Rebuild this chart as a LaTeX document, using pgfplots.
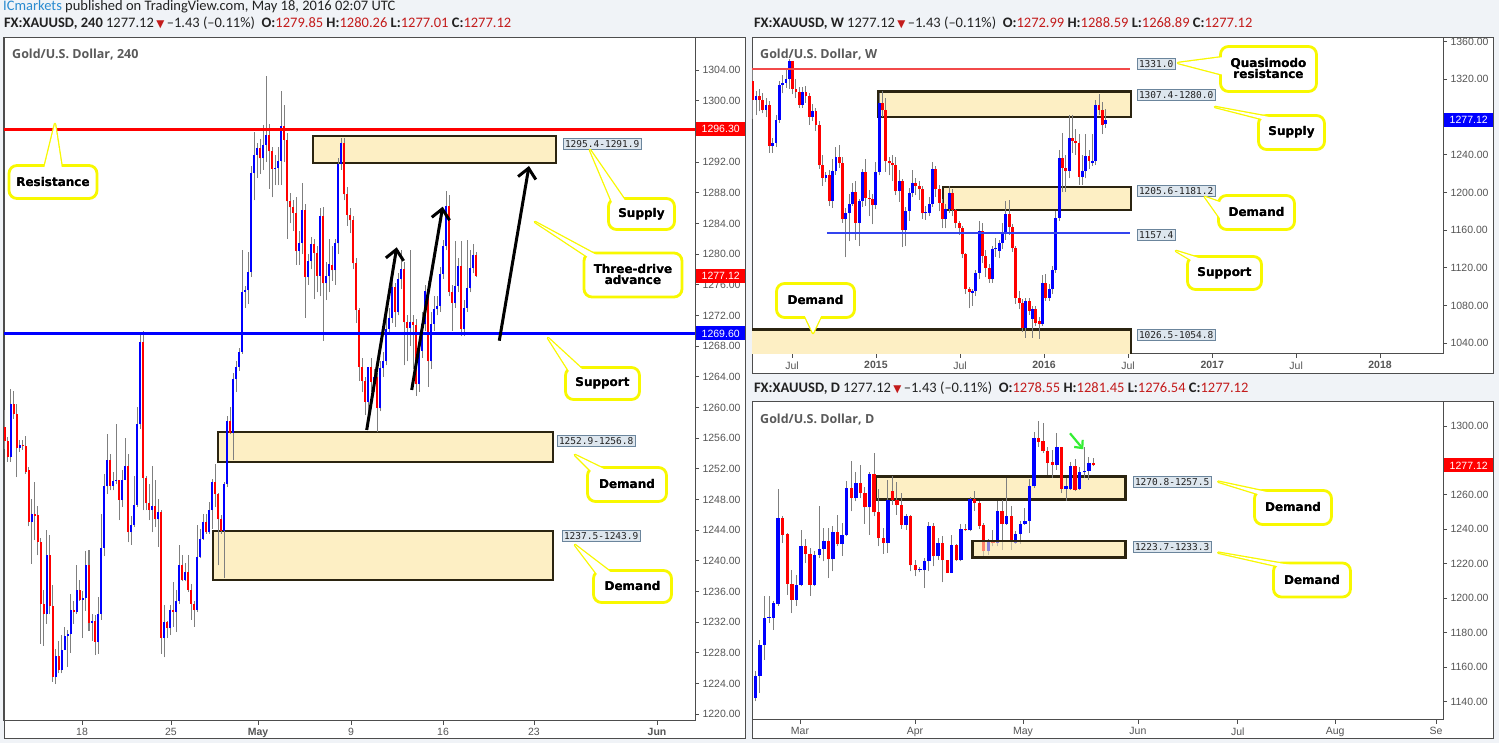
\documentclass[border=0pt]{standalone}
\usepackage{fontspec}
\setmainfont{Liberation Sans}
\newfontfamily\hdr{Carlito}
\newfontfamily\djv{DejaVu Sans}
\newfontfamily\mono{DejaVu Sans Mono}
\newfontfamily\osans{Open Sans}
\usepackage{pgfplots}
\usepackage{pgfplotstable}
\pgfplotsset{compat=1.18}
\usetikzlibrary{arrows.meta}

\definecolor{bg}{HTML}{F0F3F7}
\definecolor{frame}{HTML}{4D4D4D}
\definecolor{upc}{HTML}{0000FF}
\definecolor{dnc}{HTML}{FF0000}
\definecolor{wickc}{HTML}{7F7F7F}
\definecolor{boxfill}{HTML}{FDEFC4}
\definecolor{boxline}{HTML}{2B2410}
\definecolor{tagfill}{HTML}{DDE6EE}
\definecolor{tagline}{HTML}{6B859C}
\definecolor{callyel}{HTML}{F8F800}
\definecolor{hdrtxt}{HTML}{222222}
\definecolor{hdrred}{HTML}{C31B1B}
\definecolor{icblue}{HTML}{2A8BD0}
\definecolor{axtxt}{HTML}{555555}
\definecolor{ttl}{HTML}{5A5A5A}
\definecolor{wline}{HTML}{F24A4A}
\definecolor{wblue}{HTML}{3344EE}
\definecolor{arrowgreen}{HTML}{33EE33}

\pgfplotsset{
  candlebar/.style 2 args={draw=none, mark=none, forget plot, error bars/.cd, y dir=plus, y explicit, error mark=none, error bar style={draw=#1, line width=#2, solid, line cap=butt}, /pgfplots/.cd},
  tvaxis/.style={scale only axis, width=691pt, anchor=south west,
    axis line style={draw=frame, line width=1pt},
    tick style={draw=frame, line width=0.8pt}, tick align=outside, major tick length=4pt,
    ytick pos=right, yticklabel pos=right, xtick pos=bottom,
    tick label style={font=\fontsize{10.5}{12}\selectfont, text=axtxt},
    y tick label style={/pgf/number format/.cd, fixed, fixed zerofill, precision=2, 1000 sep={}, assume math mode=true},
    clip=true},
}
\tikzset{
  tvbox/.style={fill=boxfill, draw=boxline, line width=2.6pt},
  lvl/.style={fill=tagfill, draw=tagline, line width=0.8pt, inner sep=1.6pt, anchor=west, font=\mono\fontsize{9.5}{10}\selectfont, text=hdrtxt},
  ptag/.style={anchor=west, inner sep=0pt, minimum width=49pt, minimum height=14pt, text=white, font=\fontsize{10.5}{12}\selectfont},
  blackarrow/.style={line width=3pt, -{Straight Barb[length=10pt,width=18pt]}},
}
\newcommand{\callout}[7]{%
  \filldraw[fill=white, draw=callyel, line width=2.6pt, line join=round] #5 -- #4 -- #6 -- cycle;
  \node[draw=callyel, fill=white, line width=2.8pt, rounded corners=8pt, minimum width=#2, minimum height=#3, inner sep=0pt, align=center, font=\djv\bfseries\fontsize{12}{11}\selectfont] at #1 {#7};
  \fill[white] #5 -- #4 -- #6 -- cycle;
  \node[inner sep=0pt, align=center, font=\djv\bfseries\fontsize{12}{11}\selectfont] at #1 {#7};
}
\newcommand{\hdrline}[5]{{\color{hdrtxt}\textbf{FX:XAUUSD, #1}\ 1277.12\,{\djv\fontsize{10.5}{10}\selectfont\textcolor{hdrred}{▼}}\,–1.43 (–0.11\%)\ \ \textbf{O:}\textcolor{hdrred}{#2}\ \textbf{H:}\textcolor{hdrred}{#3}\ \textbf{L:}\textcolor{hdrred}{#4}\ \textbf{C:}\textcolor{hdrred}{#5}}}

% 4-hour candles: index, open, high, low, close
\pgfplotstableread{
i o h l c
1 1257.5 1259.7 1254.6 1255.6
2 1255.6 1256.2 1252.9 1253.5
3 1253.5 1262.4 1252.9 1260.4
4 1260.4 1262.1 1258.5 1259.2
5 1259.2 1260.5 1250.9 1254.7
6 1254.7 1255.8 1254.2 1255.1
7 1255.1 1255.7 1254.5 1255.0
8 1255.0 1256.3 1251.3 1251.6
9 1251.8 1252.2 1244.5 1245.0
10 1245.0 1248.1 1239.6 1246.1
11 1246.1 1250.3 1242.7 1245.9
12 1246.0 1247.2 1240.7 1242.4
13 1242.4 1243.0 1229.2 1234.3
14 1234.3 1236.2 1228.9 1233.0
15 1233.0 1244.0 1231.8 1240.8
16 1240.8 1243.4 1233.0 1234.1
17 1234.1 1236.8 1224.2 1224.9
18 1224.9 1228.5 1223.9 1227.6
19 1227.6 1229.6 1225.3 1225.8
20 1225.8 1230.3 1225.3 1228.4
21 1228.4 1231.4 1228.3 1230.2
22 1230.2 1231.0 1226.2 1230.5
23 1230.5 1235.7 1228.0 1233.6
24 1233.6 1234.8 1231.8 1233.3
25 1233.3 1239.4 1233.1 1236.2
26 1236.2 1237.5 1234.8 1234.9
27 1234.9 1236.0 1229.9 1235.1
28 1235.1 1241.3 1233.5 1239.4
29 1239.4 1241.4 1230.9 1231.9
30 1231.9 1233.0 1229.6 1232.2
31 1232.2 1232.9 1227.7 1229.4
32 1229.4 1235.3 1227.9 1233.1
33 1233.1 1246.1 1232.3 1241.7
34 1241.7 1251.3 1240.6 1249.7
35 1249.7 1256.5 1248.7 1253.1
36 1253.1 1253.9 1249.2 1249.8
37 1249.8 1251.6 1249.2 1250.4
38 1250.4 1257.8 1250.0 1250.6
39 1250.5 1250.6 1245.3 1247.9
40 1247.9 1251.9 1247.0 1250.6
41 1250.6 1256.0 1250.5 1252.4
42 1252.4 1253.9 1242.4 1243.7
43 1243.7 1245.9 1242.1 1244.7
44 1244.7 1251.1 1244.4 1247.3
45 1247.3 1260.1 1247.0 1257.8
46 1257.8 1269.8 1257.2 1268.6
47 1268.6 1270.0 1246.6 1250.8
48 1250.8 1251.1 1246.6 1247.5
49 1247.5 1250.0 1245.3 1246.6
50 1246.6 1252.3 1243.7 1247.1
51 1247.1 1250.5 1244.4 1245.4
52 1245.4 1248.1 1241.8 1246.3
53 1246.3 1246.6 1227.9 1229.9
54 1229.9 1234.2 1227.4 1232.0
55 1232.0 1232.2 1229.9 1231.2
56 1231.2 1234.2 1230.3 1233.6
57 1233.6 1237.2 1231.4 1233.3
58 1233.3 1236.2 1230.7 1234.8
59 1234.8 1242.0 1234.4 1239.4
60 1239.4 1240.7 1237.3 1237.5
61 1237.5 1239.7 1237.3 1238.5
62 1238.5 1240.7 1235.9 1236.2
63 1236.2 1237.0 1232.3 1234.4
64 1234.4 1234.8 1231.4 1233.6
65 1233.6 1244.7 1233.3 1240.5
66 1240.5 1244.2 1240.3 1242.9
67 1242.9 1246.1 1242.7 1245.1
68 1245.1 1246.1 1243.5 1243.7
69 1243.7 1247.7 1243.5 1246.6
70 1246.6 1250.7 1244.2 1250.3
71 1250.3 1252.6 1247.0 1248.7
72 1248.7 1248.9 1239.4 1245.4
73 1245.4 1246.0 1243.5 1243.9
74 1243.9 1250.3 1237.7 1250.0
75 1250.0 1258.9 1249.6 1258.2
76 1258.2 1260.0 1256.5 1256.7
77 1256.7 1264.5 1253.1 1263.7
78 1263.7 1266.0 1262.0 1265.3
79 1265.3 1267.8 1264.8 1267.3
80 1267.3 1280.5 1267.0 1275.1
81 1275.1 1275.8 1273.0 1275.3
82 1275.3 1280.3 1273.5 1277.7
83 1277.7 1291.5 1277.0 1290.6
84 1290.6 1296.0 1287.0 1293.0
85 1293.0 1294.5 1290.0 1293.8
86 1293.8 1295.0 1290.5 1292.5
87 1292.5 1296.8 1291.0 1294.3
88 1294.3 1303.3 1292.0 1295.5
89 1295.5 1297.0 1288.5 1293.4
90 1293.4 1294.0 1287.4 1291.1
91 1291.1 1293.0 1289.0 1291.3
92 1291.3 1294.0 1289.0 1292.2
93 1292.2 1301.3 1289.0 1296.7
94 1296.7 1299.5 1292.0 1294.9
95 1294.9 1295.8 1282.0 1286.9
96 1286.9 1288.0 1284.0 1286.1
97 1286.1 1287.0 1283.0 1285.4
98 1285.4 1287.5 1278.6 1280.4
99 1280.4 1283.0 1278.6 1281.5
100 1281.5 1289.3 1280.0 1285.7
101 1285.7 1286.5 1271.7 1277.0
102 1277.0 1280.0 1276.0 1279.1
103 1279.1 1282.3 1278.0 1281.3
104 1281.3 1282.0 1274.1 1280.2
105 1280.2 1281.0 1275.0 1277.2
106 1277.2 1286.0 1274.5 1285.0
107 1285.0 1286.2 1268.7 1276.2
108 1276.2 1279.0 1274.0 1277.2
109 1277.2 1282.0 1275.0 1278.7
110 1278.6 1281.0 1276.5 1277.9
111 1277.9 1282.0 1276.0 1281.4
112 1281.4 1292.5 1280.0 1291.7
113 1291.7 1295.1 1291.0 1294.5
114 1294.5 1295.1 1287.0 1287.8
115 1287.8 1288.8 1283.7 1285.1
116 1285.1 1286.0 1282.7 1284.4
117 1284.4 1285.0 1278.0 1278.8
118 1278.8 1279.5 1271.0 1272.7
119 1272.7 1273.0 1263.5 1265.3
120 1265.3 1266.5 1262.0 1263.4
121 1263.4 1264.0 1259.0 1260.7
122 1260.7 1265.0 1259.5 1265.3
123 1265.3 1266.5 1262.0 1263.3
124 1263.3 1265.0 1262.0 1264.0
125 1264.0 1264.5 1256.8 1259.9
126 1259.9 1266.0 1259.5 1265.1
127 1265.1 1267.2 1264.0 1266.0
128 1266.0 1272.0 1265.5 1270.3
129 1270.3 1273.0 1269.5 1271.7
130 1271.7 1277.0 1271.0 1275.7
131 1275.7 1276.3 1270.5 1272.4
132 1272.4 1277.5 1272.0 1276.8
133 1276.8 1280.6 1275.5 1278.0
134 1278.0 1279.0 1265.5 1271.1
135 1271.1 1272.0 1266.0 1270.4
136 1270.4 1280.6 1268.0 1271.1
137 1271.1 1272.0 1265.0 1270.8
138 1270.8 1271.5 1261.5 1263.0
139 1263.0 1268.5 1262.0 1267.4
140 1267.4 1272.5 1266.5 1270.9
141 1270.9 1276.0 1270.0 1275.2
142 1275.2 1276.5 1262.7 1266.0
143 1266.0 1272.5 1265.0 1270.9
144 1270.9 1274.5 1270.0 1272.8
145 1272.8 1274.5 1272.0 1273.3
146 1273.3 1278.3 1272.5 1277.4
147 1277.4 1281.8 1276.8 1281.1
148 1281.1 1288.3 1280.5 1286.3
149 1286.3 1287.7 1274.5 1275.1
150 1275.1 1276.0 1270.0 1273.6
151 1273.6 1281.7 1273.0 1275.9
152 1275.9 1279.5 1275.0 1278.5
153 1278.5 1281.7 1269.3 1270.2
154 1270.2 1274.0 1269.3 1273.0
155 1273.0 1281.8 1272.5 1275.6
156 1275.6 1280.5 1275.0 1278.2
157 1278.2 1281.3 1277.5 1279.85
158 1279.85 1280.26 1277.01 1277.12
}\fourh

% weekly candles
\pgfplotstableread{
i o h l c
1 1318.0 1330 1278 1297.9
2 1297.9 1308 1282 1302.1
3 1302.1 1310 1286 1298.6
4 1298.6 1306 1284 1288.0
5 1288.0 1300 1280 1293.3
6 1293.3 1297 1242 1249.1
7 1249.1 1258 1242 1252.7
8 1252.7 1282 1248 1277.4
9 1277.4 1318 1274 1314.5
10 1314.5 1325 1305 1316.2
11 1316.2 1330 1311 1320.4
12 1320.4 1342 1310 1339.2
13 1339.2 1340 1304 1309.9
14 1309.9 1320 1300 1306.7
15 1306.7 1312 1290 1293.3
16 1293.3 1312 1290 1306.7
17 1306.7 1313 1295 1302.0
18 1302.0 1305 1272 1280.2
19 1280.2 1294 1276 1286.9
20 1286.9 1290 1265 1272.1
21 1272.1 1276 1225 1228.7
22 1228.7 1240 1207 1215.6
23 1215.6 1222 1211 1218.0
24 1218.0 1224 1186 1190.9
25 1190.9 1236 1184 1222.6
26 1222.6 1248 1219 1237.8
27 1237.8 1250 1226 1231.0
28 1231.0 1238 1168 1171.4
29 1171.4 1183 1131 1177.8
30 1177.8 1198 1148 1188.0
31 1188.0 1210 1186 1200.7
32 1200.7 1212 1150 1167.9
33 1167.9 1193 1143 1190.9
34 1190.9 1225 1185 1221.9
35 1221.9 1236 1186 1194.4
36 1194.4 1203 1175 1193.3
37 1193.3 1198 1166 1186.6
38 1186.6 1232 1182 1221.9
39 1221.9 1306 1218 1295.0
40 1295.0 1307.5 1280 1288.0
41 1288.0 1300 1222 1233.2
42 1233.2 1238 1218 1230.8
43 1230.8 1240 1212 1228.7
44 1228.7 1238 1197 1201.5
45 1201.5 1224 1190 1212.1
46 1212.1 1214 1142 1160.0
47 1160.0 1185 1143 1180.3
48 1180.3 1205 1170 1199.7
49 1199.7 1224 1195 1209.6
50 1209.6 1215 1197 1206.8
51 1206.8 1212 1192 1203.2
52 1203.2 1207 1172 1177.8
53 1177.8 1186 1171 1178.5
54 1178.5 1195 1175 1188.0
55 1188.0 1232 1185 1224.4
56 1224.4 1228 1195 1203.2
57 1203.2 1208 1180 1189.1
58 1189.1 1193 1162 1171.4
59 1171.4 1188 1162 1182.0
60 1182.0 1207 1178 1199.7
61 1199.7 1204 1175 1181.3
62 1181.3 1182 1162 1167.9
63 1167.9 1170 1155 1162.6
64 1162.6 1164 1130 1134.4
65 1134.4 1136 1092 1098.0
66 1098.0 1100 1077 1094.5
67 1093.8 1098 1080 1095.5
68 1095.5 1118 1090 1115.0
69 1115.0 1170 1108 1159.1
70 1159.1 1168 1125 1132.6
71 1132.6 1139 1110 1120.2
72 1120.2 1124 1104 1107.9
73 1107.9 1143 1104 1139.7
74 1139.7 1152 1132 1141.4
75 1137.9 1150 1130 1146.7
76 1146.7 1168 1140 1157.3
77 1157.3 1191 1150 1176.7
78 1176.7 1192 1155 1163.6
79 1163.6 1166 1137 1141.4
80 1141.4 1143 1082 1088.5
81 1088.5 1095 1076 1083.2
82 1083.2 1087 1052 1056.7
83 1056.7 1088 1046 1084.9
84 1084.9 1088 1070 1074.3
85 1066.0 1079 1046 1076.0
86 1076.0 1080 1058 1062.0
87 1064.0 1068 1045 1060.0
88 1060.0 1112 1058 1104.4
89 1104.4 1113 1085 1088.5
90 1088.5 1103 1085 1097.3
91 1097.3 1122 1092 1117.4
92 1117.4 1180 1115 1173.2
93 1173.2 1245 1170 1236.8
94 1236.8 1263 1200 1226.2
95 1226.2 1240 1201 1222.6
96 1222.6 1282 1215 1257.9
97 1257.9 1282 1242 1254.4
98 1254.4 1267 1240 1253.0
99 1253.0 1262 1208 1216.7
100 1216.7 1240 1208 1222.6
101 1222.6 1262 1215 1239.2
102 1239.2 1245 1225 1233.2
103 1231.0 1262 1228 1233.5
104 1233.5 1298 1229 1293.3
105 1293.3 1304 1282 1288.0
106 1288.0 1296 1262 1272.1
107 1272.99 1288.59 1268.89 1277.12
}\weekly

% daily candles
\pgfplotstableread{
i o h l c
1 1142.2 1157.6 1140.2 1155.1
2 1155.1 1176.0 1145.1 1173.1
3 1173.1 1201.1 1164.4 1188.5
4 1188.5 1201.1 1185.6 1189.1
5 1188.5 1198.2 1181.8 1197.2
6 1196.8 1263.3 1195.7 1246.5
7 1246.5 1247.5 1232.0 1236.8
8 1237.4 1237.8 1202.1 1208.4
9 1208.4 1216.5 1191.4 1199.2
10 1199.2 1213.7 1195.7 1207.9
11 1207.9 1239.7 1206.9 1230.5
12 1230.5 1234.3 1220.4 1225.8
13 1225.8 1229.1 1201.5 1207.9
14 1207.9 1227.2 1206.9 1225.2
15 1225.2 1253.3 1223.3 1228.7
16 1228.7 1240.7 1221.4 1233.0
17 1233.0 1240.7 1211.7 1222.7
18 1222.7 1241.7 1215.6 1238.2
19 1238.2 1248.4 1230.1 1231.6
20 1231.6 1243.9 1224.7 1236.8
21 1236.8 1268.3 1236.0 1263.9
22 1263.9 1279.7 1250.4 1258.1
23 1258.1 1273.0 1256.2 1266.8
24 1266.8 1277.4 1258.1 1261.0
25 1261.0 1264.5 1243.2 1252.7
26 1252.7 1273.5 1236.8 1272.2
27 1272.2 1284.2 1247.5 1249.8
28 1249.8 1263.3 1230.1 1234.9
29 1234.9 1240.7 1225.8 1232.0
30 1232.0 1268.7 1226.2 1257.1
31 1262.5 1271.0 1254.2 1257.1
32 1257.1 1267.2 1248.4 1254.2
33 1254.2 1261.0 1240.1 1242.6
34 1242.6 1249.0 1239.7 1247.9
35 1247.9 1248.4 1215.6 1219.1
36 1219.1 1222.3 1212.7 1216.2
37 1216.2 1218.0 1215.0 1216.5
38 1216.2 1223.3 1205.9 1221.4
39 1221.4 1244.0 1215.6 1242.1
40 1242.1 1243.6 1218.5 1224.3
41 1224.3 1234.9 1222.3 1232.0
42 1232.0 1235.9 1209.2 1222.0
43 1222.0 1222.3 1214.6 1214.9
44 1214.9 1236.8 1214.6 1231.0
45 1231.0 1231.6 1221.4 1222.0
46 1222.0 1243.2 1221.4 1240.3
47 1240.3 1243.2 1238.8 1239.4
48 1239.4 1258.7 1238.8 1257.5
49 1257.5 1262.5 1250.4 1255.2
50 1255.2 1256.2 1240.1 1242.1
51 1242.6 1243.6 1224.7 1227.2
52 1227.2 1234.3 1225.2 1233.0
53 1233.9 1239.7 1230.1 1232.0
54 1232.0 1256.2 1230.1 1250.4
55 1250.4 1257.1 1228.1 1243.2
56 1243.2 1269.7 1242.6 1247.9
57 1247.9 1253.3 1228.1 1233.9
58 1232.0 1238.8 1231.6 1237.4
59 1237.4 1244.6 1231.6 1243.2
60 1243.2 1252.3 1242.6 1245.1
61 1245.1 1269.1 1237.8 1265.2
62 1264.9 1296.7 1263.9 1292.9
63 1292.9 1303.1 1288.0 1290.9
64 1291.3 1301.5 1284.2 1285.7
65 1285.7 1288.0 1271.6 1278.7
66 1279.3 1286.1 1269.7 1277.4
67 1277.4 1295.7 1274.5 1287.6
68 1287.6 1288.0 1261.0 1263.3
69 1263.3 1269.7 1256.7 1265.2
70 1263.3 1279.3 1262.9 1276.8
71 1276.8 1280.7 1262.0 1262.9
72 1263.3 1276.4 1262.9 1273.0
73 1273.0 1288.0 1269.7 1274.1
74 1274.1 1282.2 1268.7 1278.7
75 1278.55 1281.45 1276.54 1277.12
}\daily

\begin{document}
\begin{tikzpicture}[x=1pt,y=1pt]
\useasboundingbox (0,0) rectangle (1499,743);
\fill[bg] (0,0) rectangle (1499,743);
\filldraw[fill=white, draw=frame, line width=1pt] (4,4) rectangle (745,705);
\filldraw[fill=white, draw=frame, line width=1pt] (752,369) rectangle (1493,705);
\filldraw[fill=white, draw=frame, line width=1pt] (752,4) rectangle (1493,341);

% headers
\node[anchor=west, inner sep=0pt, font=\hdr\fontsize{14.5}{15}\selectfont] at (3,736) {\textcolor{icblue}{ICmarkets} \textcolor{hdrtxt}{published on TradingView.com, May 18, 2016 02:07 UTC}};
\node[anchor=west, inner sep=0pt, font=\hdr\fontsize{14.5}{15}\selectfont] at (4,720) {\hdrline{240}{1279.85}{1280.26}{1277.01}{1277.12}};
\node[anchor=west, inner sep=0pt, font=\hdr\fontsize{14.5}{15}\selectfont] at (754,720) {\hdrline{W}{1272.99}{1288.59}{1268.89}{1277.12}};
\node[anchor=west, inner sep=0pt, font=\hdr\fontsize{14.5}{15}\selectfont] at (754,355) {\hdrline{D}{1278.55}{1281.45}{1276.54}{1277.12}};

% ---------- 4h panel ----------
\begin{axis}[tvaxis, at={(4pt,22pt)}, height=683pt,
  xmin=0.667, xmax=231, ymin=1219.1, ymax=1308.2,
  ytick={1220,1224,...,1304},
  xtick={26.67,56.33,85.33,116.33,147,177.33,218.33},
  xticklabels={18,25,\textbf{May},9,16,23,\textbf{Jun}}]
  \draw[tvbox] (103.67,1295.4) rectangle (184.67,1291.9);
  \draw[tvbox] (72.0,1252.9) rectangle (183.67,1256.8);
  \draw[tvbox] (70.33,1237.5) rectangle (183.67,1243.9);
  \addplot[candlebar={wickc}{1pt}] table[x=i, y=l, y error plus expr={\thisrow{h}-\thisrow{l}}] {\fourh};
  \addplot[candlebar={upc}{2.8pt}] table[x=i, y=o, y error plus expr={(\thisrow{c}>=\thisrow{o})*max(\thisrow{c}-\thisrow{o},0.15)}] {\fourh};
  \addplot[candlebar={dnc}{2.8pt}] table[x=i, y=c, y error plus expr={(\thisrow{c}<\thisrow{o})*max(\thisrow{o}-\thisrow{c},0.15)}] {\fourh};
  \addplot[dnc, line width=3pt, forget plot] coordinates {(0.667,1296.3) (231,1296.3)};
  \addplot[upc, line width=3pt, forget plot] coordinates {(0.667,1269.6) (231,1269.6)};
\end{axis}

% ---------- weekly panel ----------
\begin{axis}[tvaxis, at={(752pt,389pt)}, height=316pt,
  xmin=0.79, xmax=208.3, ymin=1028.6, ymax=1363.9,
  ytick={1040,1080,1120,1160,1200,1240,1320,1360},
  xtick={12.8,38.0,63.25,88.5,113.7,139.0,164.2,189.4},
  xticklabels={Jul,\textbf{2015},Jul,\textbf{2016},Jul,\textbf{2017},Jul,\textbf{2018}}]
  \draw[tvbox] (38.63,1307.4) rectangle (114.6,1280.0);
  \draw[tvbox] (58.15,1205.6) rectangle (114.6,1181.2);
  \draw[tvbox] (-2,1026.5) rectangle (114.6,1054.8);
  \addplot[candlebar={wickc}{1pt}] table[x=i, y=l, y error plus expr={\thisrow{h}-\thisrow{l}}] {\weekly};
  \addplot[candlebar={upc}{2.9pt}] table[x=i, y=o, y error plus expr={(\thisrow{c}>=\thisrow{o})*max(\thisrow{c}-\thisrow{o},1)}] {\weekly};
  \addplot[candlebar={dnc}{2.9pt}] table[x=i, y=c, y error plus expr={(\thisrow{c}<\thisrow{o})*max(\thisrow{o}-\thisrow{c},1)}] {\weekly};
  \addplot[wline, line width=2pt, forget plot] coordinates {(0.79,1331.0) (114.3,1331.0)};
  \addplot[wblue, line width=1.8pt, forget plot] coordinates {(23.3,1157.4) (114.3,1157.4)};
\end{axis}

% ---------- daily panel ----------
\begin{axis}[tvaxis, at={(752pt,23pt)}, height=318pt,
  xmin=0.278, xmax=151.5, ymin=1129.4, ymax=1313.9,
  ytick={1140,1160,1180,1200,1220,1240,1260,1300},
  xtick={10.78,35.95,59.58,84.74,106.6,127.9,149.95},
  xticklabels={Mar,Apr,May,Jun,Jul,Aug,Se}]
  \draw[tvbox] (27.41,1270.8) rectangle (82.05,1257.5);
  \draw[tvbox] (48.57,1223.7) rectangle (82.05,1233.3);
  \addplot[candlebar={wickc}{1pt}] table[x=i, y=l, y error plus expr={\thisrow{h}-\thisrow{l}}] {\daily};
  \addplot[candlebar={upc}{3.4pt}] table[x=i, y=o, y error plus expr={(\thisrow{c}>=\thisrow{o})*max(\thisrow{c}-\thisrow{o},0.6)}] {\daily};
  \addplot[candlebar={dnc}{3.4pt}] table[x=i, y=c, y error plus expr={(\thisrow{c}<\thisrow{o})*max(\thisrow{o}-\thisrow{c},0.6)}] {\daily};
  \fill[boxfill, fill opacity=0.55] (48.57,1223.7) rectangle (82.05,1233.3);
  \draw[boxline, line width=2.6pt] (48.57,1223.7) rectangle (82.05,1233.3);
\end{axis}

% panel titles
\node[anchor=west, inner sep=0pt, text=ttl, font=\osans\bfseries\fontsize{12.5}{13}\selectfont] at (12,688) {Gold/U.S. Dollar, 240};
\node[anchor=west, inner sep=0pt, text=ttl, font=\osans\bfseries\fontsize{12.5}{13}\selectfont] at (760,688) {Gold/U.S. Dollar, W};
\node[anchor=west, inner sep=0pt, text=ttl, font=\osans\bfseries\fontsize{12.5}{13}\selectfont] at (760,323) {Gold/U.S. Dollar, D};

% price tags
\node[ptag, fill=dnc] at (696,614) {1296.30};
\node[ptag, fill=dnc] at (696,467) {1277.12};
\node[ptag, fill=upc] at (696,409.5) {1269.60};
\node[ptag, fill=upc] at (1444,623) {1277.12};
\node[ptag, fill=dnc] at (1444,277.5) {1277.12};

% level tags
\node[lvl] at (563,599) {1295.4-1291.9};
\node[lvl] at (557,302) {1252.9-1256.8};
\node[lvl] at (562,207) {1237.5-1243.9};
\node[lvl] at (1137,679) {1331.0};
\node[lvl] at (1137,648) {1307.4-1280.0};
\node[lvl] at (1137,552) {1205.6-1181.2};
\node[lvl] at (1137,508) {1157.4};
\node[lvl] at (1137,408) {1026.5-1054.8};
\node[lvl] at (1133,261) {1270.8-1257.5};
\node[lvl] at (1133,196) {1223.7-1233.3};

% arrows
\draw[blackarrow] (366.7,313) -- (396.7,495.7);
\draw[blackarrow] (411.7,353) -- (442.7,536.3);
\draw[blackarrow] (499.3,402.3) -- (529,577);
\draw[arrowgreen, line width=2.2pt, -{Straight Barb[length=6pt,width=11pt]}] (1070,309.7) -- (1083.3,293.7);

% callouts
\callout{(53,561)}{88pt}{33pt}{(55,619)}{(44,574)}{(62,574)}{Resistance}
\callout{(641.5,529)}{66pt}{31pt}{(590,593)}{(612,541)}{(626,541)}{Supply}
\callout{(633,468)}{98pt}{44pt}{(535,521)}{(588,486)}{(600,486)}{Three-drive\\advance}
\callout{(602.5,359.5)}{74pt}{32pt}{(548,405)}{(569,372)}{(584,372)}{Support}
\callout{(627,258.5)}{79pt}{34pt}{(575,288)}{(591,272)}{(608,272)}{Demand}
\callout{(632.5,156.5)}{78pt}{32pt}{(575,198)}{(597,169)}{(613,169)}{Demand}
\callout{(1268.5,674)}{96pt}{45pt}{(1178,680)}{(1224,686)}{(1224,668)}{Quasimodo\\resistance}
\callout{(1291.5,610.5)}{66pt}{34pt}{(1215,636)}{(1262,624)}{(1280,624)}{Supply}
\callout{(1256.5,530.5)}{76pt}{34pt}{(1205,546)}{(1222,540)}{(1222,522)}{Demand}
\callout{(1224.5,470)}{74pt}{33pt}{(1176,492)}{(1191,483)}{(1205,483)}{Support}
\callout{(815.5,442.5)}{78pt}{34pt}{(813,410)}{(804,429)}{(822,429)}{Demand}
\callout{(1293,235.5)}{77pt}{34pt}{(1218.3,261.3)}{(1258,249)}{(1276,249)}{Demand}
\callout{(1312,163)}{77pt}{34pt}{(1218.3,190.3)}{(1277,177)}{(1296,177)}{Demand}
\end{tikzpicture}
\end{document}
